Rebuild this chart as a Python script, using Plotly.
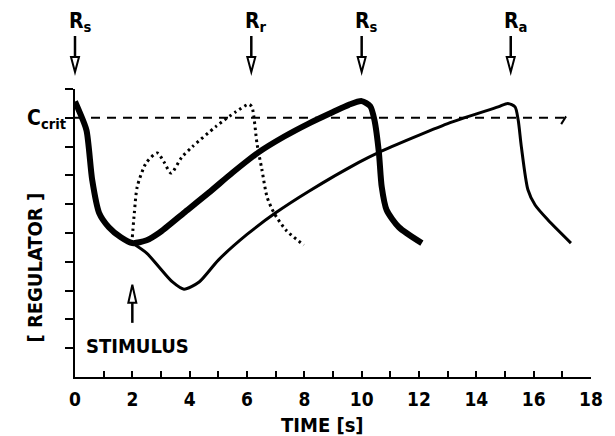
import plotly.graph_objects as go

# ---- data (time in s, regulator level in axis units) ----
thick_x = [0, 0.16, 0.4, 0.6, 0.84, 1.18, 1.6, 2.0, 2.5, 2.93, 3.8, 4.67, 5.5, 6.4, 7.3, 8.15, 9.0, 9.55, 10.0, 10.3, 10.45, 10.6, 10.7, 10.87, 11.3, 12.1]
thick_y = [9.57, 9.2, 8.57, 6.84, 5.7, 5.2, 4.85, 4.65, 4.75, 5.0, 5.7, 6.4, 7.1, 7.8, 8.35, 8.8, 9.2, 9.45, 9.58, 9.4, 8.9, 7.8, 6.6, 5.8, 5.2, 4.65]

thin_x = [2.0, 2.5, 2.93, 3.4, 3.8, 4.33, 5.0, 6.0, 7.0, 8.16, 9.9, 10.6, 13.0, 14.76, 15.1, 15.35, 15.46, 15.57, 15.8, 16.05, 16.5, 17.3]
thin_y = [4.65, 4.3, 3.82, 3.3, 3.05, 3.3, 4.06, 4.95, 5.7, 6.45, 7.45, 7.8, 8.8, 9.38, 9.5, 9.38, 8.92, 8.0, 6.5, 5.97, 5.45, 4.65]

dot_x = [2.0, 2.07, 2.17, 2.48, 2.87, 3.1, 3.35, 3.73, 4.1, 4.92, 5.6, 6.06, 6.17, 6.35, 6.52, 6.7, 6.94, 7.36, 7.98]
dot_y = [4.86, 5.7, 6.6, 7.43, 7.78, 7.47, 7.08, 7.64, 8.0, 8.7, 9.2, 9.47, 9.38, 8.1, 7.2, 6.25, 5.7, 5.1, 4.58]

c_crit = 9.0
crit_x = [0, 17.13]
hook_x = [17.13, 16.96]
hook_y = [9.05, 8.78]

arrow_x = [0, 6.15, 10.0, 15.2]
arrow_labels = ["R<sub>s</sub>", "R<sub>r</sub>", "R<sub>s</sub>", "R<sub>a</sub>"]
stimulus_x = 2.0
stimulus_tip_y = 3.2

x_range = [0, 18]
x_ticks = list(range(0, 19))
x_ticktext = [str(v) if v % 2 == 0 else "" for v in x_ticks]
y_ticks = list(range(1, 11))

FONT = "DejaVu Sans Condensed, DejaVu Sans"

fig = go.Figure()
fig.add_trace(go.Scatter(x=crit_x, y=[c_crit, c_crit], mode="lines",
                         line=dict(color="black", width=2, dash="9px,7px"), hoverinfo="skip"))
fig.add_trace(go.Scatter(x=hook_x, y=hook_y, mode="lines",
                         line=dict(color="black", width=2), hoverinfo="skip"))
fig.add_trace(go.Scatter(x=dot_x, y=dot_y, mode="lines",
                         line=dict(color="black", width=3, dash="2.5px,3.5px", shape="spline", smoothing=0.7), hoverinfo="skip"))
fig.add_trace(go.Scatter(x=thin_x, y=thin_y, mode="lines",
                         line=dict(color="black", width=3, shape="spline", smoothing=0.7), hoverinfo="skip"))
fig.add_trace(go.Scatter(x=thick_x, y=thick_y, mode="lines",
                         line=dict(color="black", width=6, shape="spline", smoothing=0.7), hoverinfo="skip"))

def to_paper(v):
    return (v - x_range[0]) / (x_range[1] - x_range[0])

arrow_path = "M0,17 L-4,32 L4,32 Z"
shapes = []
for ax in arrow_x:
    shapes.append(dict(type="path", xref="paper", yref="paper", xsizemode="pixel", ysizemode="pixel",
                       xanchor=to_paper(ax), yanchor=1, path=arrow_path,
                       line=dict(color="black", width=2), fillcolor="white"))
    shapes.append(dict(type="line", xref="paper", yref="paper", xsizemode="pixel", ysizemode="pixel",
                       xanchor=to_paper(ax), yanchor=1, x0=0, x1=0, y0=32, y1=53,
                       line=dict(color="black", width=2.5)))
# stimulus arrow (pointing up)
shapes.append(dict(type="path", xref="x", yref="y", xsizemode="pixel", ysizemode="pixel",
                   xanchor=stimulus_x, yanchor=stimulus_tip_y, path="M0,0 L-4,-18 L4,-18 Z",
                   line=dict(color="black", width=2), fillcolor="white"))
shapes.append(dict(type="line", xref="x", yref="y", xsizemode="pixel", ysizemode="pixel",
                   xanchor=stimulus_x, yanchor=stimulus_tip_y, x0=0, x1=0, y0=-18, y1=-38,
                   line=dict(color="black", width=2.5)))

annotations = []
for ax, lab in zip(arrow_x, arrow_labels):
    annotations.append(dict(x=ax, y=1, xref="x", yref="paper", text=lab, showarrow=False,
                            xanchor="center", yanchor="middle", xshift=5, yshift=67,
                            font=dict(family=FONT, size=21, color="black", weight="bold")))
annotations.append(dict(x=0, y=c_crit, xref="paper", yref="y", text="C<sub>crit</sub>", showarrow=False,
                        xanchor="right", yanchor="middle", xshift=-6, yshift=-1,
                        font=dict(family=FONT, size=21, color="black", weight="bold")))
annotations.append(dict(x=stimulus_x, y=1.08, xref="x", yref="y", text="STIMULUS", showarrow=False,
                        xanchor="center", yanchor="middle", xshift=5,
                        font=dict(family=FONT, size=20, color="black", weight="bold")))
annotations.append(dict(x=0, y=3.8, xref="paper", yref="y", text="[ REGULATOR ]", showarrow=False,
                        textangle=-90, xanchor="center", yanchor="middle", xshift=-40,
                        font=dict(family=FONT, size=20, color="black", weight="bold")))
annotations.append(dict(x=8.65, y=0, xref="x", yref="paper", text="TIME [s]", showarrow=False,
                        xanchor="center", yanchor="middle", yshift=-48,
                        font=dict(family=FONT, size=20, color="black", weight="bold")))

# the page body has an 8px margin, so the figure is shrunk by 8px and offsets reduced by 8px
fig.update_layout(
    width=607, height=428,
    margin=dict(l=67, r=22, t=81, b=59),
    paper_bgcolor="white", plot_bgcolor="white",
    showlegend=False,
    shapes=shapes, annotations=annotations,
    font=dict(family=FONT, size=19, color="black"),
)
fig.update_xaxes(range=x_range, tickvals=x_ticks, ticktext=x_ticktext, ticks="inside", ticklen=6,
                 tickwidth=2, tickcolor="black", showline=True, linewidth=2, linecolor="black",
                 showgrid=False, zeroline=False, ticklabelstandoff=4,
                 tickfont=dict(family=FONT, size=19, color="black", weight="bold"))
fig.update_yaxes(range=[0, 10], tickvals=y_ticks, ticktext=[""] * len(y_ticks), ticks="outside", ticklen=8,
                 tickwidth=2, tickcolor="black", showline=True, linewidth=2, linecolor="black",
                 showgrid=False, zeroline=False)

fig.write_html("out.html")
